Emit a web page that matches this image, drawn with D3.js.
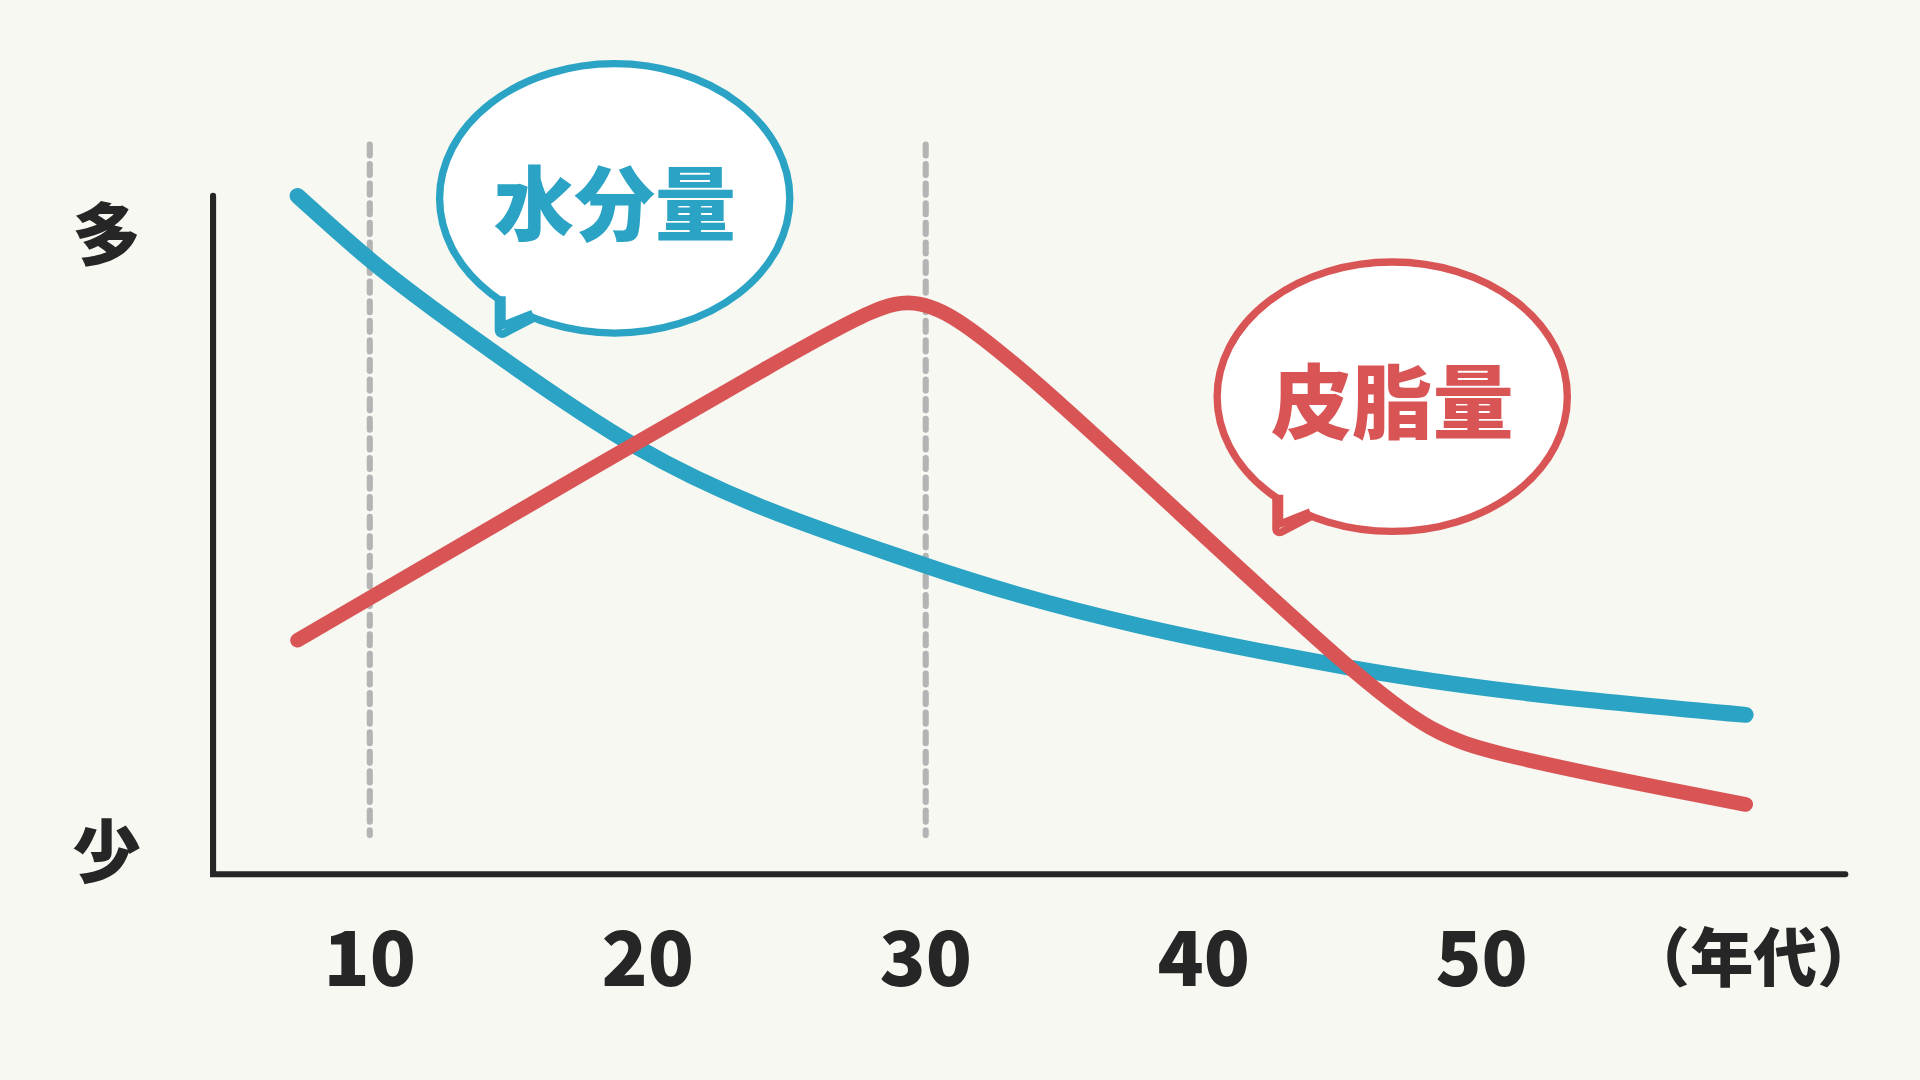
<!DOCTYPE html>
<html><head><meta charset="utf-8">
<script src="https://cdn.jsdelivr.net/npm/d3@7"></script>
<style>html,body{margin:0;background:#f7f8f2;}svg{display:block}</style>
</head><body><svg id="c" width="1920" height="1080" viewBox="0 0 1568 882"></svg>
<script>
// ages (decade scale) and relative levels 0-100
const decades = [10, 20, 30, 40, 50];
const markers = [10, 30];
const water = [[7.4, 100], [10, 90.6], [14.3, 77.4], [19.6, 63], [30, 45.5], [45.2, 30.5], [59.5, 23.5]];
const sebum = [[7.4, 34.5], [27.1, 81.6], [29.5, 86], [32.4, 79.5], [46.9, 23], [49.6, 18.2], [59.5, 10.3]];
const bubbles = [
  { label: '水分量', color: '#2aa3c4', cx: 502, cy: 162, tail: 410 },
  { label: '皮脂量', color: '#d95555', cx: 1137, cy: 324, tail: 1045 }
];

const svg = d3.select('#c');
const font = '"Noto Sans CJK JP", "Noto Sans", sans-serif';
svg.append('rect').attr('width', 1568).attr('height', 882).attr('fill', '#f7f8f2');

const x = d3.scaleLinear().domain([10, 50]).range([302, 1210]);
const y = d3.scaleLinear().domain([0, 100]).range([714, 160]);

markers.forEach(m => {
  svg.append('line').attr('x1', x(m)).attr('x2', x(m)).attr('y1', 118).attr('y2', 682)
    .attr('stroke', '#b4b4b4').attr('stroke-width', 5).attr('stroke-dasharray', '9 7').attr('stroke-linecap', 'round');
});

svg.append('path').attr('d', `M174,160 L174,714 L1507,714`).attr('fill', 'none')
  .attr('stroke', '#262626').attr('stroke-width', 5).attr('stroke-linecap', 'round');

const line = d3.line().x(d => x(d[0])).y(d => y(d[1]));
svg.append('path').datum(water).attr('d', line.curve(d3.curveMonotoneX)).attr('fill', 'none')
  .attr('stroke', '#2aa3c4').attr('stroke-width', 13).attr('stroke-linecap', 'round');
svg.append('path').datum(sebum).attr('d', line.curve(d3.curveBasis)).attr('fill', 'none')
  .attr('stroke', '#d95555').attr('stroke-width', 12).attr('stroke-linecap', 'round').attr('stroke-linejoin', 'round');

bubbles.forEach(b => {
  const g = svg.append('g');
  const rx = 143, ry = 110, tx = b.tail, ty = b.cy + 108;
  g.append('path')
    .attr('d', `M${tx},${b.cy + 78} L${tx},${ty} L${tx + 25},${b.cy + 95}`)
    .attr('fill', '#fff').attr('stroke', b.color).attr('stroke-width', 12).attr('stroke-linejoin', 'round').attr('stroke-linecap', 'round');
  g.append('ellipse').attr('cx', b.cx).attr('cy', b.cy).attr('rx', rx).attr('ry', ry)
    .attr('fill', '#fff').attr('stroke', b.color).attr('stroke-width', 6);
  g.append('path')
    .attr('d', `M${tx},${b.cy + 74} L${tx},${ty} L${tx + 25},${b.cy + 92}`)
    .attr('fill', '#fff').attr('stroke', 'none');
  g.append('path')
    .attr('d', `M${tx},${b.cy + 80} L${tx},${ty - 4} L${tx + 25},${b.cy + 94}`)
    .attr('fill', 'none').attr('stroke', b.color).attr('stroke-width', 6).attr('stroke-linejoin', 'round');
  g.append('text').attr('x', b.cx).attr('y', b.cy).attr('text-anchor', 'middle').attr('dominant-baseline', 'central')
    .attr('font-family', font).attr('font-weight', 900).attr('font-size', 66).attr('fill', b.color).text(b.label);
});

svg.selectAll('.tick').data(decades).join('text').attr('x', d => x(d)).attr('y', 778)
  .attr('text-anchor', 'middle').attr('dominant-baseline', 'central')
  .attr('font-family', font).attr('font-weight', 900).attr('font-size', 62).attr('fill', '#262626').text(d => d);
svg.append('text').attr('x', 1432).attr('y', 778).attr('text-anchor', 'middle').attr('dominant-baseline', 'central')
  .attr('font-family', font).attr('font-weight', 900).attr('font-size', 52).attr('fill', '#262626').text('（年代）');
[['多', 188], ['少', 692]].forEach(([t, yy]) => {
  svg.append('text').attr('x', 87).attr('y', yy).attr('text-anchor', 'middle').attr('dominant-baseline', 'central')
    .attr('font-family', font).attr('font-weight', 900).attr('font-size', 56).attr('fill', '#262626').text(t);
});
</script></body></html>
